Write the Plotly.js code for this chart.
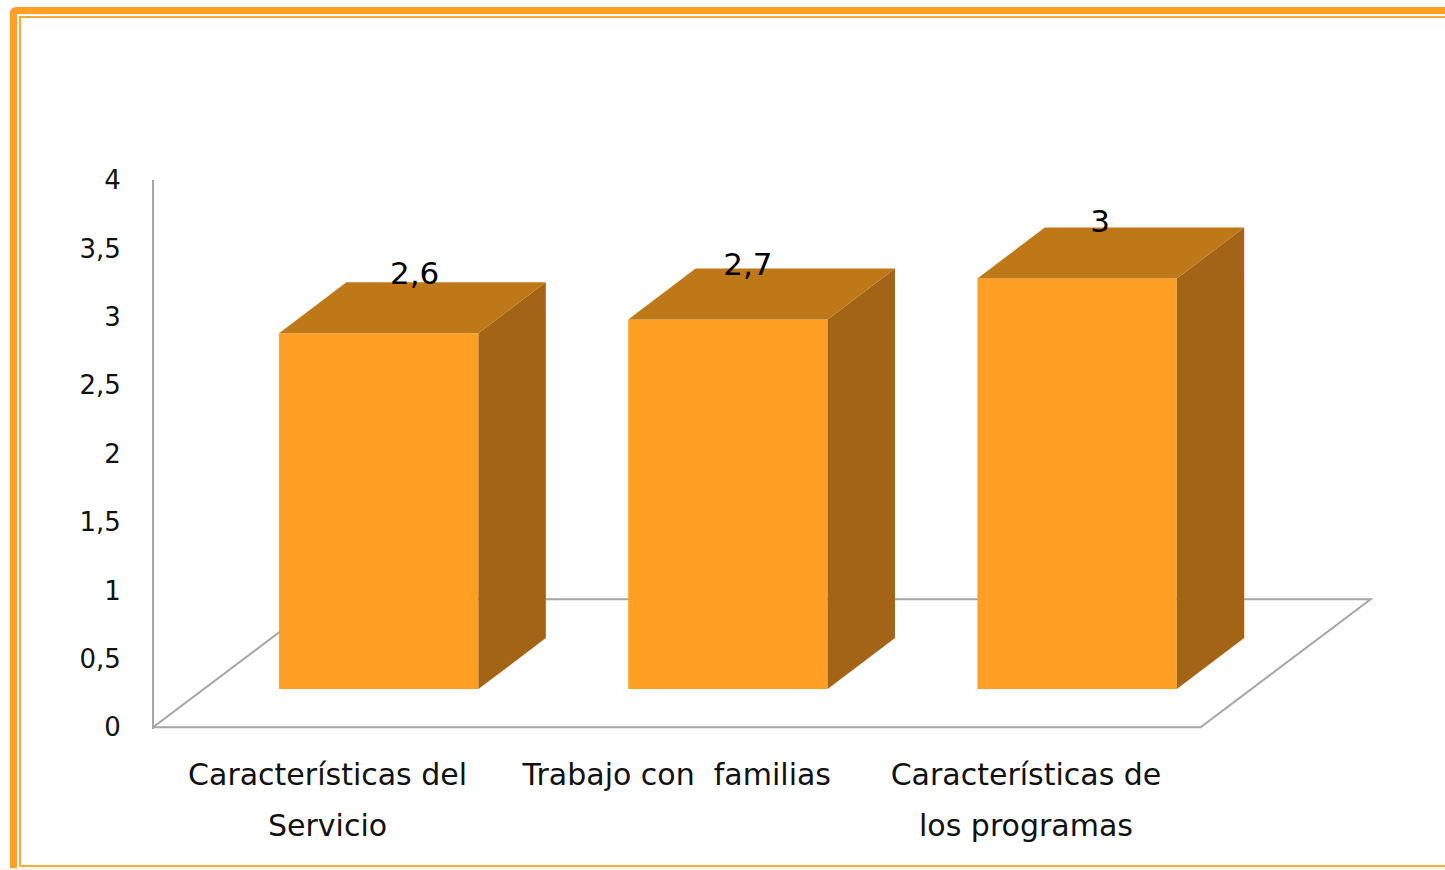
<!DOCTYPE html>
<html>
<head>
<meta charset="utf-8">
<script src="https://cdn.plot.ly/plotly-3.0.1.min.js"></script>
<style>
html,body{margin:0;padding:0;background:#fff;overflow:hidden;width:1445px;height:870px}
#outer{position:absolute;left:10px;top:7px;width:1500px;height:880px;border:7px solid #FFA024;border-radius:6px;box-sizing:border-box;border-bottom:none}
#inner{position:absolute;left:19px;top:16px;width:1500px;height:851px;border:2px solid #FFA83C;box-sizing:border-box}
#mask{position:absolute;left:0;top:868px;width:1445px;height:2px;background:#fff4e6}
#chart{position:absolute;left:0;top:0;width:1445px;height:870px}
</style>
</head>
<body>
<div id="outer"></div><div id="inner"></div><div id="mask"></div>
<div id="chart"></div>
<script>
const categories = [0, 1, 2];
const firstLines = ["Características del", "Trabajo con  familias", "Características de"];
const secondLines = ["Servicio", "", "los programas"];
const values = [2.6, 2.7, 3];
const valueLabels = ["2,6", "2,7", "3"];
const yTicks = [0, 0.5, 1, 1.5, 2, 2.5, 3, 3.5, 4];
const yTickLabels = ["0", "0,5", "1", "1,5", "2", "2,5", "3", "3,5", "4"];
const labelShiftX = [0.103, 0.057, 0.066];
const labelShiftY = [0.42, 0.385, 0.40];

const FRONT = "#FFA024", TOP = "#BF7818", SIDE = "#A36515", GRID = "#A6A6A6", INK = "#111111";
const barOffset = 0.1465, barWidth = 0.571, baseLift = 0.28, depthX = 0.193, depthY = 0.373;
const floorDX = 0.487, floorDY = 0.936;

const traces = [];
traces.push({
  type: "bar", x: categories.map(c => c + barOffset), y: values, base: baseLift,
  width: barWidth, marker: {color: FRONT, line: {width: 0}}, hoverinfo: "skip", showlegend: false
});
categories.forEach((c, i) => {
  const l = c + barOffset - barWidth / 2, r = l + barWidth;
  const b = baseLift, t = baseLift + values[i];
  traces.push({
    type: "scatter", mode: "none", fill: "toself", fillcolor: SIDE, hoverinfo: "skip", showlegend: false,
    x: [r, r + depthX, r + depthX, r, r], y: [b, b + depthY, t + depthY, t, b]
  });
  traces.push({
    type: "scatter", mode: "none", fill: "toself", fillcolor: TOP, hoverinfo: "skip", showlegend: false,
    x: [l, l + depthX, r + depthX, r, l], y: [t, t + depthY, t + depthY, t, t]
  });
});
traces.push({
  type: "scatter", mode: "text", cliponaxis: false, hoverinfo: "skip", showlegend: false,
  x: categories.map((c, i) => c + barOffset + labelShiftX[i]),
  y: values.map((v, i) => baseLift + v + labelShiftY[i]),
  text: valueLabels, textposition: "middle center",
  textfont: {family: "DejaVu Sans", size: 31, color: "#000"}
});

const xL = -0.5, xR = 2.5;
const layout = {
  width: 1445, height: 870,
  paper_bgcolor: "rgba(0,0,0,0)", plot_bgcolor: "rgba(0,0,0,0)",
  margin: {l: 154, r: 0, t: 180, b: 141.4, pad: 0},
  showlegend: false, barmode: "overlay",
  xaxis: {
    range: [-0.4971, 3.2], showgrid: false, zeroline: false, showline: false, ticks: "",
    tickmode: "array", tickvals: categories, ticktext: firstLines,
    tickfont: {family: "DejaVu Sans", size: 30, color: INK}, ticklabelstandoff: 25, fixedrange: true
  },
  yaxis: {
    range: [-0.012, 4], showgrid: false, zeroline: false, showline: true, linecolor: GRID, linewidth: 2,
    ticks: "", tickmode: "array", tickvals: yTicks, ticktext: yTickLabels,
    tickfont: {family: "DejaVu Sans", size: 26, color: INK}, ticklabelstandoff: 26, fixedrange: true
  },
  shapes: [{
    type: "path", layer: "below", xref: "x", yref: "y",
    path: `M ${xL} 0 L ${xR} 0 L ${xR + floorDX} ${floorDY} L ${xL + floorDX} ${floorDY} Z`,
    line: {color: GRID, width: 2}, fillcolor: "rgba(0,0,0,0)"
  }],
  annotations: categories.map((c, i) => ({
    x: c, y: -0.1757, xref: "x", yref: "paper", text: secondLines[i], showarrow: false,
    xanchor: "center", yanchor: "middle", font: {family: "DejaVu Sans", size: 30, color: INK}
  })).filter(a => a.text)
};
Plotly.newPlot("chart", traces, layout, {displayModeBar: false, staticPlot: true});
</script>
</body>
</html>
